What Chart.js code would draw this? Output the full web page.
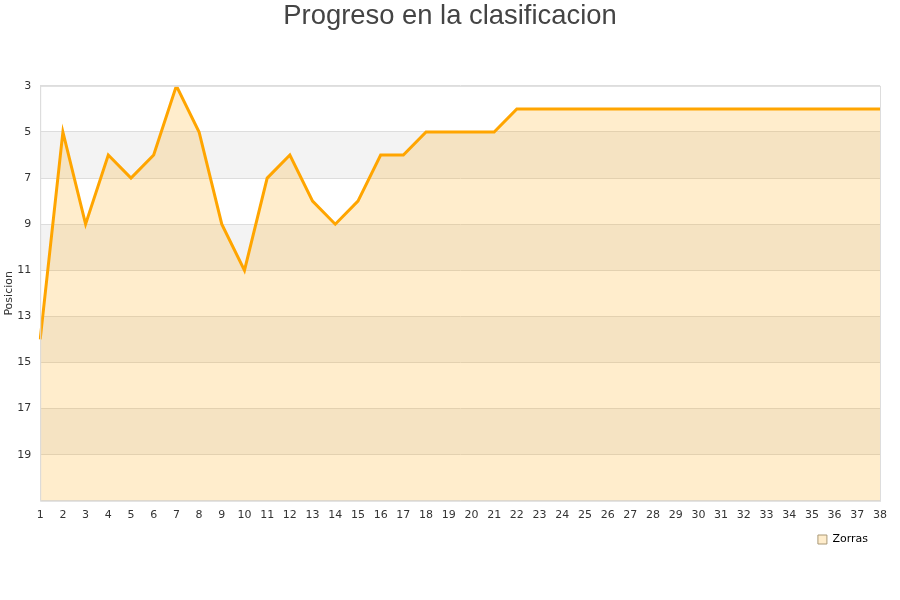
<!DOCTYPE html>
<html>
<head>
<meta charset="utf-8">
<script src="https://cdn.jsdelivr.net/npm/chart.js@4/dist/chart.umd.min.js"></script>
<style>
  body { margin: 0; background: #fff; }
  #wrap { width: 900px; height: 600px; }
</style>
</head>
<body>
<div id="wrap"><canvas id="posChart"></canvas></div>
<script>
// jornadas y posiciones
const jornadas = [];
for (let i = 1; i <= 38; i++) jornadas.push(String(i));
const posiciones = [14, 5, 9, 6, 7, 6, 3, 5, 9, 11, 7, 6, 8, 9, 8, 6, 6, 5, 5, 5, 5,
  4, 4, 4, 4, 4, 4, 4, 4, 4, 4, 4, 4, 4, 4, 4, 4, 4];
const equipo = 'Zorras';
// franjas grises alternas (desde, hasta)
const franjas = [[5, 7], [9, 11], [13, 15], [17, 19]];

// pinta las franjas y el borde del area
const bandas = {
    id: 'bandas',
    beforeDraw(chart) {
        const { ctx, chartArea: a, scales: { y } } = chart;
        ctx.save();
        ctx.fillStyle = '#f3f3f3';
        franjas.forEach(f => {
            const y1 = y.getPixelForValue(f[0]);
            const y2 = y.getPixelForValue(f[1]);
            ctx.fillRect(a.left, y1, a.right - a.left, y2 - y1);
        });
        ctx.restore();
    },
    afterDraw(chart) {
        const { ctx, chartArea: a } = chart;
        ctx.save();
        ctx.strokeStyle = '#dddddd';
        ctx.lineWidth = 1;
        ctx.strokeRect(a.left + 0.5, a.top + 0.5, a.right - a.left, a.bottom - a.top);
        ctx.restore();
    }
};

new Chart(document.getElementById('posChart').getContext('2d'), {
    type: 'line',
    data: {
        labels: jornadas,
        datasets: [{
            label: equipo,
            data: posiciones,
            borderColor: '#ffa500',
            backgroundColor: 'rgba(255, 165, 0, 0.2)',
            borderWidth: 3,
            pointRadius: 0,
            tension: 0,
            fill: { value: 21 }
        }]
    },
    options: {
        responsive: true,
        maintainAspectRatio: false,
        animation: false,
        layout: { padding: { left: 0, right: 0, top: 0, bottom: 45 } },
        plugins: {
            title: {
                display: true,
                text: 'Progreso en la clasificacion',
                color: '#444444',
                font: { family: 'Liberation Sans', size: 27.4, weight: 'normal' },
                padding: { top: 0, bottom: 53 }
            },
            legend: {
                position: 'bottom',
                align: 'end',
                fullSize: false,
                labels: {
                    boxWidth: 9,
                    boxHeight: 9,
                    padding: 12,
                    color: '#000',
                    font: { family: 'DejaVu Sans', size: 11 },
                    generateLabels(chart) {
                        const items = Chart.defaults.plugins.legend.labels.generateLabels(chart);
                        items.forEach(it => { it.lineWidth = 1; it.strokeStyle = '#aa9977'; });
                        return items;
                    }
                }
            },
            tooltip: { enabled: false }
        },
        scales: {
            x: {
                offset: false,
                grid: { display: false },
                border: { color: '#dddddd' },
                ticks: {
                    color: '#333',
                    autoSkip: false,
                    maxRotation: 0,
                    padding: 0,
                    font: { family: 'DejaVu Sans', size: 11 }
                }
            },
            y: {
                reverse: true,
                min: 3,
                max: 21,
                grid: { color: '#dddddd', drawTicks: false },
                border: { color: '#dddddd' },
                ticks: {
                    stepSize: 2,
                    padding: 9,
                    color: '#333',
                    font: { family: 'DejaVu Sans', size: 11 },
                    callback: v => (v === 21 ? '' : v)
                },
                title: {
                    display: true,
                    text: 'Posicion',
                    color: '#333',
                    font: { family: 'DejaVu Sans', size: 11 },
                    padding: { top: 3, bottom: -8 }
                }
            },
            // margen derecho vacio
            margen: {
                position: 'right',
                grid: { display: false },
                border: { display: false },
                ticks: { display: false },
                afterFit(s) { s.width = 20; }
            }
        }
    },
    plugins: [bandas]
});
</script>
</body>
</html>
